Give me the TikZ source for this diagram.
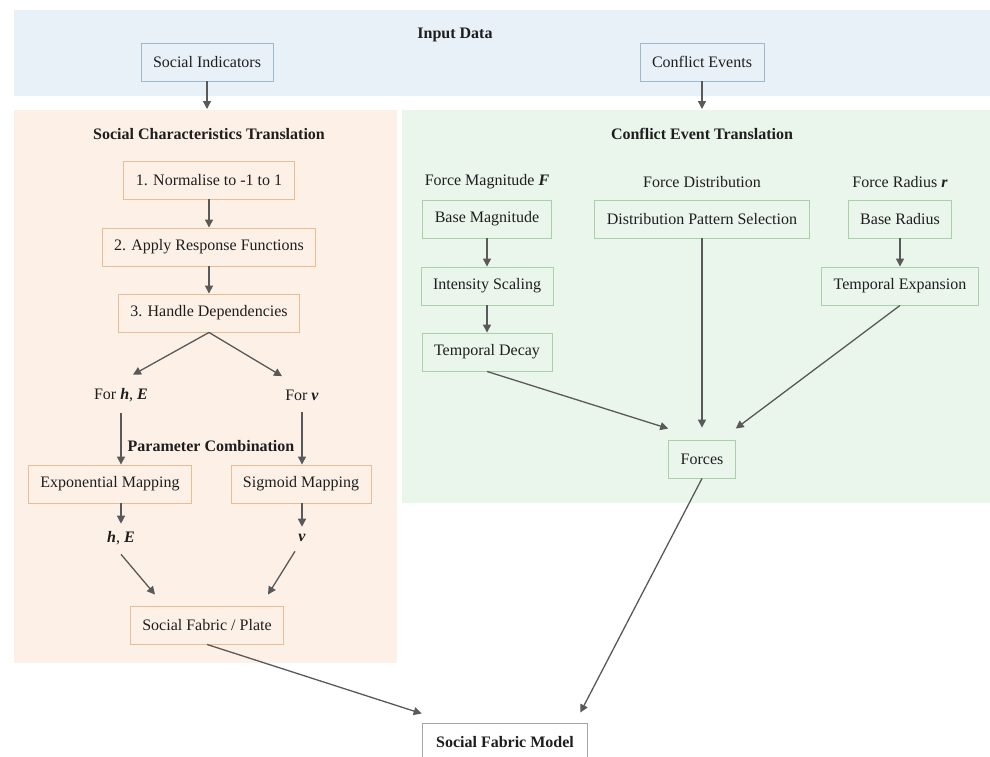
\documentclass[tikz,border=0pt]{standalone}
\usepackage{fontspec}
\setmainfont{Liberation Serif}
\usepackage{tikz}
\usetikzlibrary{arrows.meta}

\definecolor{inputbg}{HTML}{E8F1F8}
\definecolor{inputline}{HTML}{9FB8CC}
\definecolor{socialbg}{HTML}{FDF0E6}
\definecolor{socialline}{HTML}{E9BC95}
\definecolor{conflictbg}{HTML}{EAF5EB}
\definecolor{conflictline}{HTML}{A9D0AA}
\definecolor{arrowgray}{HTML}{595959}
\definecolor{textdark}{HTML}{1E1E1E}

\begin{document}
\begin{tikzpicture}[x=1pt, y=-1pt,
  every node/.style={font=\fontsize{16}{19}\selectfont, text=textdark},
  basebox/.style={rectangle, draw, line width=0.9pt, inner xsep=12pt, minimum height=38pt},
  ibox/.style={basebox, draw=inputline, fill=inputbg},
  obox/.style={basebox, draw=socialline, fill=socialbg},
  gbox/.style={basebox, draw=conflictline, fill=conflictbg},
  mbox/.style={basebox, draw=gray!70, fill=white, inner xsep=14pt},
  ttl/.style={font=\fontsize{16}{19}\selectfont\bfseries},
  arr/.style={draw=arrowgray, line width=1.3pt, -{Triangle[length=8pt, width=8pt]}}]
\useasboundingbox (0, 0) rectangle (990, 756);
\clip (0, 0) rectangle (990, 756);

% panels
\fill[inputbg] (14, 10) rectangle (990, 96);
\fill[socialbg] (14, 110) rectangle (397, 663);
\fill[conflictbg] (402, 110) rectangle (990, 503);

% input data
\node (inputtitle) at (455, 35) [ttl] {Input Data};
\node (indicators) at (207, 62) [ibox] {Social Indicators};
\node (events) at (702, 62) [ibox] {Conflict Events};
\coordinate (socialtop) at (207, 109);
\coordinate (conflicttop) at (702, 109);
\draw[arr] (indicators.south) -- (socialtop);
\draw[arr] (events.south) -- (conflicttop);

% social characteristics
\node (socialtitle) at (209, 134) [ttl] {Social Characteristics Translation};
\node (norm) at (209, 180) [obox] {1. Normalise to -1 to 1};
\node (apply) at (209, 247) [obox] {2. Apply Response Functions};
\node (handle) at (209, 313) [obox] {3. Handle Dependencies};
\node (forhe) at (121, 395) {For \textbf{\textit{h}}, \textbf{\textit{E}}};
\node (forv) at (302, 395) {For \textbf{\textit{v}}};
\node (combotitle) at (211, 446) [ttl] {Parameter Combination};
\node (expmap) at (110, 484) [obox] {Exponential Mapping};
\node (sigmap) at (301, 484) [obox] {Sigmoid Mapping};
\node (he) at (121, 538) {\textbf{\textit{h}}, \textbf{\textit{E}}};
\node (vout) at (302, 538) {\textbf{\textit{v}}};
\node (plate) at (207, 625) [obox] {Social Fabric / Plate};

\draw[arr] (norm) -- (apply);
\draw[arr] (apply) -- (handle);
\draw[arr] (handle.south) -- ([shift={(12pt, 10pt)}]forhe.north);
\draw[arr] (handle.south) -- ([shift={(-20pt, 10pt)}]forv.north);
\draw[arr] ([yshift=-8pt]forhe.south) -- (forhe.south |- expmap.north);
\draw[arr] ([yshift=-8pt]forv.south) -- (forv.south |- sigmap.north);
\draw[arr] (forhe.south |- expmap.south) -- ([yshift=4pt]he.north);
\draw[arr] (forv.south |- sigmap.south) -- ([yshift=4pt]vout.north);
\draw[arr] ([yshift=-6pt]he.south) -- ([shift={(-52pt, 11pt)}]plate.north);
\draw[arr] ([shift={(-7pt, -6pt)}]vout.south) -- ([shift={(61pt, 11pt)}]plate.north);

% conflict events
\node (conflicttitle) at (702, 134) [ttl] {Conflict Event Translation};
\node (maglabel) at (487, 182) {Force Magnitude \textbf{\textit{F}}};
\node (distlabel) at (702, 182) {Force Distribution};
\node (radlabel) at (900, 182) {Force Radius \textbf{\textit{r}}};
\node (basemag) at (487, 219) [gbox] {Base Magnitude};
\node (intensity) at (487, 286) [gbox] {Intensity Scaling};
\node (decay) at (487, 352) [gbox] {Temporal Decay};
\node (dist) at (702, 219) [gbox] {Distribution Pattern Selection};
\node (baserad) at (900, 219) [gbox] {Base Radius};
\node (expansion) at (900, 286) [gbox] {Temporal Expansion};
\node (forces) at (702, 459) [gbox] {Forces};

\draw[arr] (basemag) -- (intensity);
\draw[arr] (intensity) -- (decay);
\draw[arr] (baserad) -- (expansion);
\draw[arr] (decay.south) -- ([yshift=11pt]forces.north west);
\draw[arr] (dist.south) -- ([yshift=12pt]forces.north);
\draw[arr] (expansion.south) -- ([yshift=11pt]forces.north east);

% result
\node (model) at (505, 742) [mbox, ttl] {Social Fabric Model};
\draw[arr] (plate.south) -- ([yshift=9pt]model.north west);
\draw[arr] (forces.south) -- ([shift={(-8pt, 10pt)}]model.north east);

\end{tikzpicture}
\end{document}
